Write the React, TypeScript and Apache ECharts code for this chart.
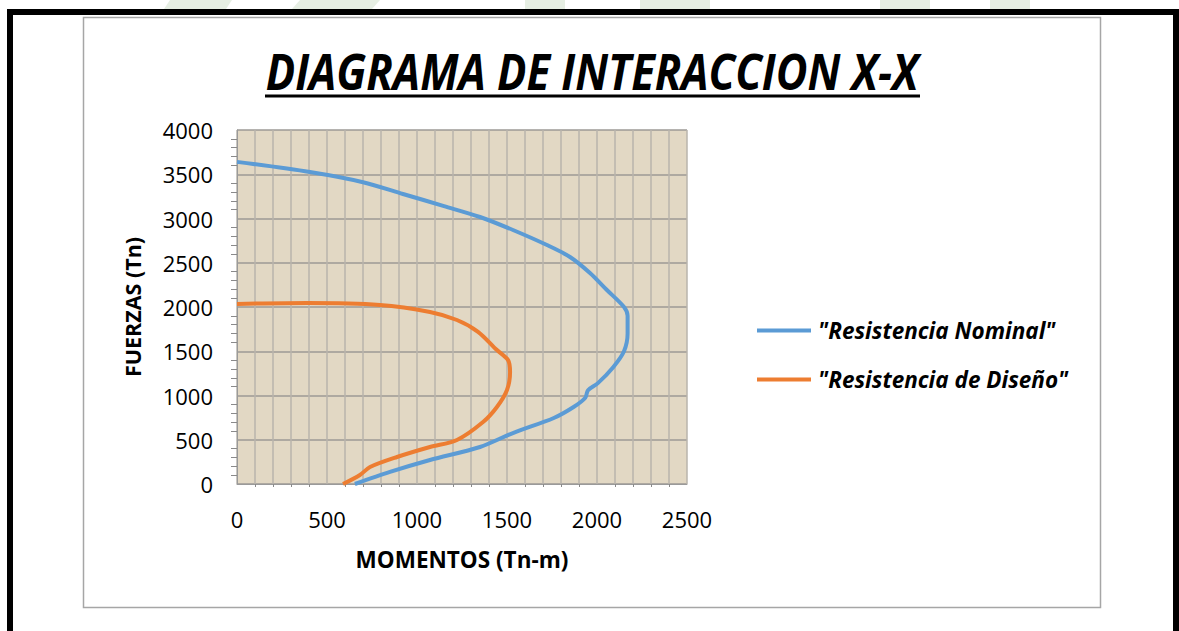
import React, { useEffect, useRef } from "react";
import * as echarts from "echarts";

const TITLE = "DIAGRAMA DE INTERACCION X-X";
const X_NAME = "MOMENTOS (Tn-m)";
const Y_NAME = "FUERZAS (Tn)";
const SERIES_NAMES = ['"Resistencia Nominal"', '"Resistencia de Diseño"'];

const nominalM = [0, 405, 700, 922, 1150, 1350, 1533, 1722, 1850, 1961, 2055, 2150, 2170, 2170, 2150, 2090, 2005, 1950, 1935, 1870, 1760, 1533, 1350, 1072, 850, 655];
const nominalP = [3640, 3525, 3410, 3277, 3140, 3017, 2870, 2700, 2565, 2384, 2192, 2000, 1900, 1700, 1500, 1320, 1140, 1060, 975, 870, 746, 576, 418, 271, 136, 0];

const designM = [0, 390, 794, 1072, 1222, 1339, 1444, 1506, 1517, 1500, 1444, 1367, 1222, 1072, 889, 739, 683, 589];
const designP = [2035, 2045, 2023, 1944, 1853, 1720, 1514, 1400, 1266, 1062, 870, 700, 497, 418, 305, 192, 102, 0];

const X_MIN = 0, X_MAX = 2500, X_STEP = 500;
const Y_MIN = 0, Y_MAX = 4000, Y_STEP = 500;

const FONT = "'Open Sans', 'Noto Sans', sans-serif";

export default function App() {
  const ref = useRef<HTMLDivElement>(null);
  useEffect(() => {
    if (!ref.current) return;
    const chart = echarts.init(ref.current, null, { renderer: "svg" });
    const nominal = nominalM.map((m, i) => [m, nominalP[i]]);
    const design = designM.map((m, i) => [m, designP[i]]);
    chart.setOption({
      animation: false,
      backgroundColor: "#ffffff",
      textStyle: { fontFamily: FONT },
      graphic: [
        // faint watermark tops
        { type: "polygon", shape: { points: [[170, 0], [232, 0], [226, 9], [164, 9]] }, style: { fill: "#e6eee3" } },
        { type: "polygon", shape: { points: [[300, 0], [380, 0], [372, 9], [292, 9]] }, style: { fill: "#e6eee3" } },
        { type: "rect", shape: { x: 525, y: 0, width: 40, height: 9 }, style: { fill: "#e6eee3" } },
        { type: "rect", shape: { x: 640, y: 0, width: 70, height: 9 }, style: { fill: "#e6eee3" } },
        { type: "rect", shape: { x: 880, y: 0, width: 50, height: 9 }, style: { fill: "#e6eee3" } },
        { type: "rect", shape: { x: 990, y: 0, width: 40, height: 9 }, style: { fill: "#e6eee3" } },
        // black frame
        { type: "rect", shape: { x: 7, y: 9, width: 1172, height: 6 }, style: { fill: "#000" } },
        { type: "rect", shape: { x: 7, y: 9, width: 6, height: 622 }, style: { fill: "#000" } },
        { type: "rect", shape: { x: 1173, y: 9, width: 6, height: 622 }, style: { fill: "#000" } },
        // chart box
        { type: "rect", shape: { x: 83.5, y: 17.5, width: 1017, height: 590 }, style: { fill: "none", stroke: "#a6a6a6", lineWidth: 1.5 } },
        // title
        {
          type: "text", x: 592, y: 71, scaleX: 0.87,
          style: { text: TITLE, font: `italic bold 50px ${FONT}`, fill: "#000", textAlign: "center", textVerticalAlign: "middle" },
        },
        { type: "line", shape: { x1: 265, y1: 96, x2: 920, y2: 96 }, style: { stroke: "#000", lineWidth: 3 } },
      ],
      grid: { left: 237, top: 130, width: 450, height: 354, backgroundColor: "#e2d8c4", show: true, borderWidth: 0 },
      legend: {
        orient: "vertical",
        left: 752,
        top: 314,
        itemWidth: 54,
        itemHeight: 4,
        itemGap: 26,
        icon: "rect",
        textStyle: { fontFamily: FONT, fontSize: 22.5, fontWeight: "bold", fontStyle: "italic", color: "#000", padding: [0, 0, 0, 2] },
        data: SERIES_NAMES,
      },
      xAxis: {
        type: "value",
        min: X_MIN, max: X_MAX, interval: X_STEP,
        name: X_NAME,
        nameLocation: "middle",
        nameGap: 64,
        nameTextStyle: { fontFamily: FONT, fontSize: 22.5, fontWeight: "bold", color: "#000" },
        axisLine: { show: true, lineStyle: { color: "#9a9a9a", width: 1 } },
        axisTick: { show: false },
        minorTick: { show: true, splitNumber: 5, length: 3, lineStyle: { color: "#8a8a8a" } },
        axisLabel: { fontFamily: FONT, fontSize: 22, color: "#000", margin: 24, formatter: (v: number) => String(v) },
        splitLine: { show: true, lineStyle: { color: "#b9b5ad", width: 1.5 } },
        minorSplitLine: { show: true, lineStyle: { color: "#b9b5ad", width: 1.5 } },
      },
      yAxis: {
        type: "value",
        min: Y_MIN, max: Y_MAX, interval: Y_STEP,
        name: Y_NAME,
        nameLocation: "middle",
        nameGap: 94,
        nameTextStyle: { fontFamily: FONT, fontSize: 21.5, fontWeight: "bold", color: "#000" },
        axisLine: { show: true, lineStyle: { color: "#9a9a9a", width: 1 } },
        axisTick: { show: false },
        minorTick: { show: true, splitNumber: 5, length: 6, lineStyle: { color: "#8a8a8a" } },
        axisLabel: { fontFamily: FONT, fontSize: 22, color: "#000", margin: 24, formatter: (v: number) => String(v) },
        splitLine: { show: true, lineStyle: { color: "#9c9a96", width: 1.5 } },
      },
      series: [
        {
          name: SERIES_NAMES[0], type: "line", data: nominal, showSymbol: false, smooth: 0.3,
          lineStyle: { color: "#5b9bd5", width: 4 }, itemStyle: { color: "#5b9bd5" },
        },
        {
          name: SERIES_NAMES[1], type: "line", data: design, showSymbol: false, smooth: 0.3,
          lineStyle: { color: "#ed7d31", width: 4 }, itemStyle: { color: "#ed7d31" },
        },
      ],
    });
    return () => chart.dispose();
  }, []);
  return <div ref={ref} style={{ position: "fixed", left: 0, top: 0, width: 1179, height: 631 }} />;
}
